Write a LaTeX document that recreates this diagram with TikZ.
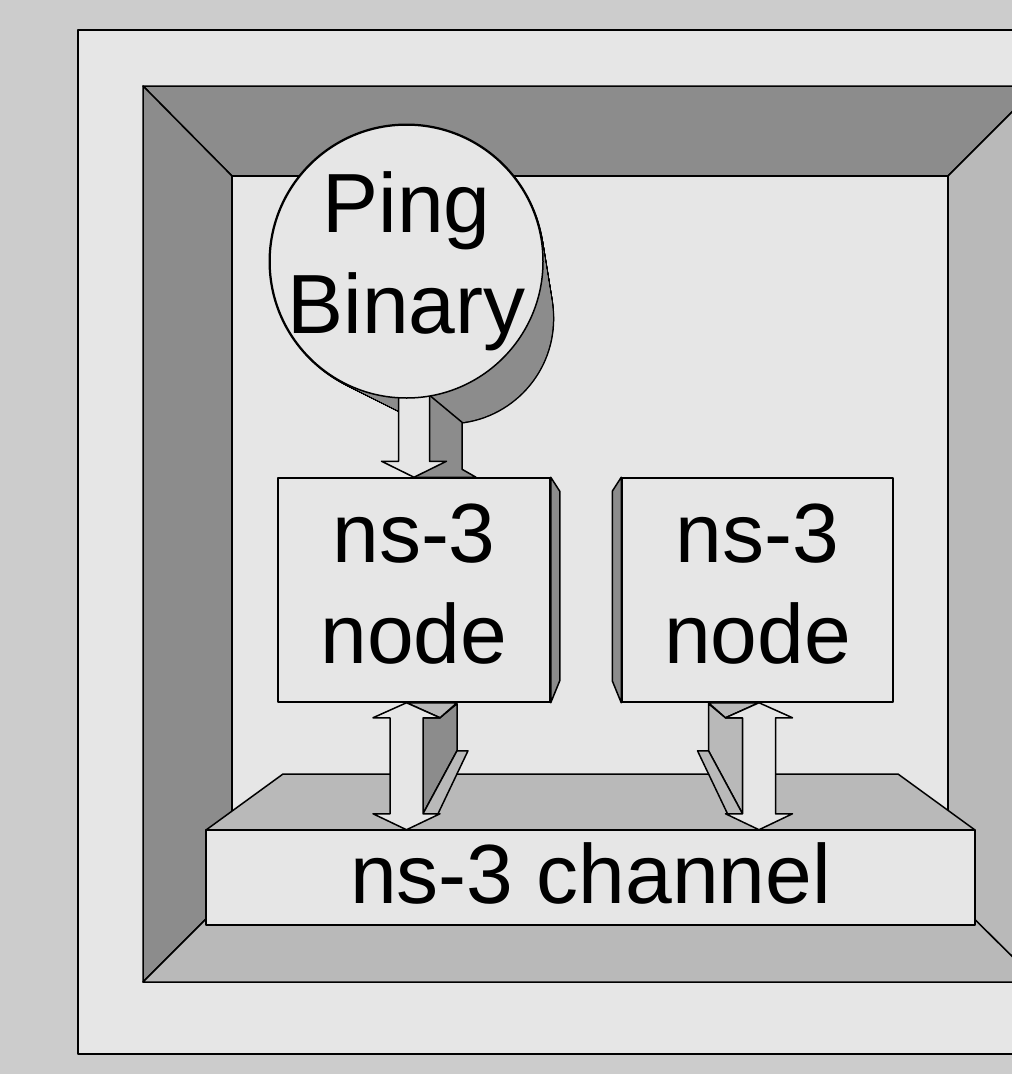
\documentclass[tikz,border=0pt]{standalone}
\usepackage{fontspec}
\setmainfont{Liberation Sans}
\usetikzlibrary{calc}

\definecolor{fondo}{HTML}{CCCCCC}
\definecolor{panel}{HTML}{E6E6E6}
\definecolor{oscuro}{HTML}{8C8C8C}
\definecolor{claro}{HTML}{B9B9B9}

\tikzset{
  caja/.style={draw, fill=panel, inner sep=0pt, align=center,
    minimum width=272pt, minimum height=224pt, text depth=13pt,
    font=\fontsize{84}{101}\selectfont}
}

\begin{document}
\begin{tikzpicture}[x=1pt, y=-1pt, line width=1.5pt, line join=round]
    % Limites y fondo
    \useasboundingbox (0,0) rectangle (1012,1074);
    \clip (0,0) rectangle (1012,1074);
    \fill[fondo] (0,0) rectangle (1012,1074);

    % Panel claro que sale por la derecha
    \filldraw[fill=panel] (78,30) rectangle (1040,1054);

    % Marco en perspectiva: caras superior e izquierda
    \filldraw[fill=oscuro] (143,86) -- (1038,86) -- (948,176) -- (232,176) -- cycle;
    \filldraw[fill=oscuro] (143,86) -- (232,176) -- (232,893) -- (143,982) -- cycle;

    % Caras derecha e inferior
    \filldraw[fill=claro] (1038,86) -- (948,176) -- (948,893) -- (1038,982) -- cycle;
    \filldraw[fill=claro] (143,982) -- (232,893) -- (948,893) -- (1038,982) -- cycle;

    % Pared del fondo
    \filldraw[fill=panel] (232,176) rectangle (948,893);

    % Canal: cara superior y frente
    \filldraw[fill=claro] (206,830) -- (283,774) -- (898,774) -- (975,830) -- cycle;
    \node[caja, minimum width=769pt, minimum height=95pt, text depth=9pt] (canal) at (590.5,877.5) {ns-3 channel};

    % Nodos ns-3 con su canto
    \node[caja] (nodoA) at (414,590) {ns-3\\node};
    \node[caja, minimum width=271pt] (nodoB) at (757.5,590) {ns-3\\node};
    \filldraw[fill=oscuro] (nodoA.north east) -- ++(9,14) -- ($(nodoA.south east)+(9,-22)$) -- (nodoA.south east) -- cycle;
    \filldraw[fill=oscuro] (nodoB.north west) -- ++(-9,14) -- ($(nodoB.south west)+(-9,-22)$) -- (nodoB.south west) -- cycle;

    % Flechas dobles entre los nodos y el canal
    \foreach \n/\dx/\s/\col in {nodoA/-7.5/1/oscuro, nodoB/1.5/-1/claro} {
      \begin{scope}[shift={($(\n.south)+(\dx,0)$)}]
        \filldraw[fill=\col] ({16.5*\s},15) -- ({33.5*\s},15) -- ({50.5*\s},1) -- ({50.5*\s},48) -- ({16.5*\s},111) -- cycle;
        \filldraw[fill=claro] (0,0) -- ({33.5*\s},15) -- ({50.5*\s},0) -- cycle;
        \filldraw[fill=claro] ({50.5*\s},48) -- ({61.5*\s},48) -- ({31.5*\s},111) -- ({16.5*\s},111) -- cycle;
        \filldraw[fill=panel] (0,0) -- (33.5,15) -- (16.5,15) -- (16.5,111) -- (33.5,111) -- (0,127)
          -- (-33.5,111) -- (-16.5,111) -- (-16.5,15) -- (-33.5,15) -- cycle;
      \end{scope}
    }

    % Volumen del circulo Ping Binary
    \foreach \t in {0,0.02,...,1}
      \draw[line width=3pt] ({406.5+43*\t},{261.5+58.5*\t}) circle [radius={136.5pt-33pt*\t}];
    \foreach \t in {0,0.02,...,1}
      \fill[oscuro] ({406.5+43*\t},{261.5+58.5*\t}) circle [radius={136.5pt-33pt*\t}];

    % Flecha del circulo al nodo
    \begin{scope}[shift={(nodoA.north)}]
      \filldraw[fill=oscuro] (15.5,-82) -- (48,-55) -- (48,-8) -- (62,0) -- (0,0) -- cycle;
      \filldraw[fill=panel] (0,0) -- (32.5,-16) -- (15.5,-16) -- (15.5,-100) -- (-15.5,-100)
        -- (-15.5,-16) -- (-32.5,-16) -- cycle;
    \end{scope}

    % Circulo frontal y su texto
    \node[circle, draw, fill=panel, minimum size=273pt, inner sep=0pt] (ping) at (406.5,261.5) {};
    \node[font=\fontsize{84}{101}\selectfont, align=center] (pingtexto) at (ping) {Ping\\Binary};
\end{tikzpicture}
\end{document}
